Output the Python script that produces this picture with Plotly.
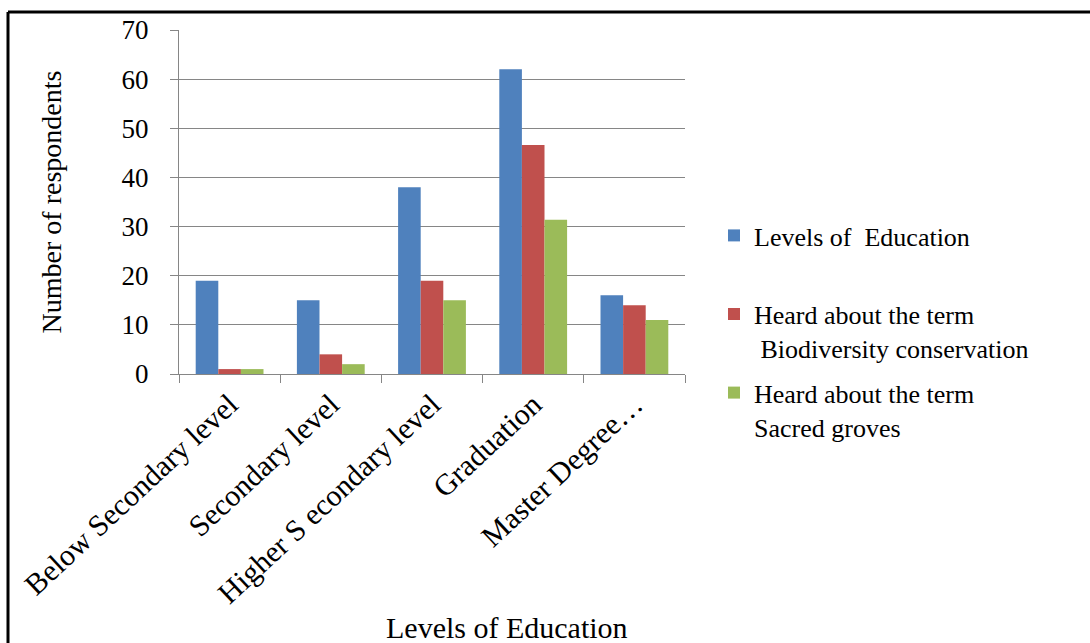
import plotly.graph_objects as go

categories = ["Below Secondary level", "Secondary level", "Higher S econdary level", "Graduation", "Master Degree…"]
levels_of_education = [19, 15, 38, 62, 16]
heard_biodiversity = [1, 4, 19, 46.6, 14]
heard_sacred_groves = [1, 2, 15, 31.4, 11]

series_names = [
    "Levels of  Education<br>\u00a0",
    "Heard about the term<br> Biodiversity conservation",
    "Heard about the term<br>Sacred groves",
]
colors = ["#4F81BD", "#C0504D", "#9BBB59"]
y_ticks = [0, 10, 20, 30, 40, 50, 60, 70]

FONT = "Liberation Serif, Times New Roman, serif"
W, H = 1090, 643
L, R, T, B = 179, 405, 30, 269
pw, ph = W - L - R, H - T - B

fig = go.Figure()
for name, vals, c in zip(series_names, [levels_of_education, heard_biodiversity, heard_sacred_groves], colors):
    fig.add_trace(go.Bar(x=categories, y=vals, name=name, marker=dict(color=c, line=dict(width=0)),
                         legendgroup=name))

def px_x(p):
    return (p - L) / pw

def px_y(p):
    return (H - B - p) / ph

fig.update_layout(
    width=W, height=H,
    margin=dict(l=L, r=R, t=T, b=B, autoexpand=False),
    paper_bgcolor="white", plot_bgcolor="white",
    barmode="group", bargap=0.33, bargroupgap=0,
    font=dict(family=FONT, color="black"),
    showlegend=True,
    legend=dict(x=px_x(714), y=px_y(212), xanchor="left", yanchor="top",
                font=dict(size=26, family=FONT, color="black"),
                valign="top", tracegroupgap=8, itemwidth=30,
                bgcolor="rgba(0,0,0,0)"),
    xaxis=dict(type="category", showline=True, linecolor="#868686", linewidth=1,
               ticks="outside", tickson="boundaries", ticklen=8, tickcolor="#868686",
               tickangle=-43, tickfont=dict(size=30, family=FONT, color="black"),
               showgrid=False, automargin=False),
    yaxis=dict(range=[0, 70], tickvals=y_ticks, ticktext=[str(v) for v in y_ticks],
               showline=True, linecolor="#868686", linewidth=1,
               ticks="outside", ticklen=8, tickcolor="#868686",
               ticklabelstandoff=16,
               tickfont=dict(size=27, family=FONT, color="black"),
               showgrid=True, gridcolor="#868686", gridwidth=1,
               zeroline=False, automargin=False,
               title=dict(text="Number of respondents", font=dict(size=28, family=FONT, color="black"),
                          standoff=51)),
    annotations=[dict(text="Levels of Education", xref="paper", yref="paper",
                      x=px_x(507), y=px_y(627), xanchor="center", yanchor="middle",
                      showarrow=False, font=dict(size=30, family=FONT, color="black"))],
    shapes=[
        dict(type="line", xref="paper", yref="paper", x0=px_x(8), x1=px_x(8), y0=px_y(12), y1=px_y(660),
             line=dict(color="black", width=3)),
        dict(type="line", xref="paper", yref="paper", x0=px_x(8), x1=px_x(1100), y0=px_y(12), y1=px_y(12),
             line=dict(color="black", width=3)),
    ],
)

fig.write_html("out.html", config={"displayModeBar": False},
               post_script="document.body.style.margin='0px';document.body.style.overflow='hidden';")
